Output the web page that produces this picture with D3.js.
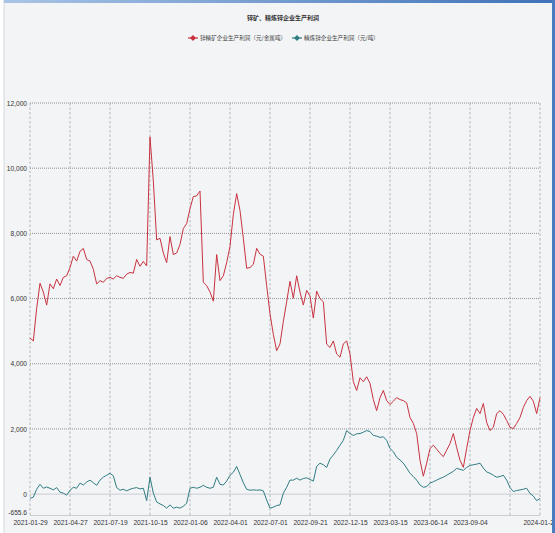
<!DOCTYPE html>
<html>
<head>
<meta charset="utf-8">
<script src="https://cdn.jsdelivr.net/npm/d3@7"></script>
<style>
  html, body { margin: 0; padding: 0; background: #ffffff; }
  svg { display: block; }
</style>
</head>
<body>
<div id="chart"></div>
<script>
// 锌矿、精炼锌企业生产利润 — sampled about every 5 trading days
var titleText = "锌矿、精炼锌企业生产利润";
var seriesNames = ["锌精矿企业生产利润（元/金属吨）", "精炼锌企业生产利润（元/吨）"];

var tickIndex = [0, 12, 24, 36, 48, 60, 72, 84, 96, 108, 120, 132, 144, 153];
var tickLabels = ["2021-01-29", "2021-04-27", "2021-07-19", "2021-10-15", "2022-01-06", "2022-04-01",
  "2022-07-01", "2022-09-21", "2022-12-15", "2023-03-15", "2023-06-14", "2023-09-04", "", "2024-01-26"];
var yTicks = [-655.6, 0, 2000, 4000, 6000, 8000, 10000, 12000];

var oreProfit = [
  4790, 4700, 5700, 6470, 6200, 5800, 6450, 6300, 6600, 6400, 6650, 6700,
  6950, 7300, 7150, 7450, 7540, 7200, 7150, 6900, 6450, 6550, 6500, 6620,
  6650, 6600, 6700, 6650, 6620, 6750, 6800, 6780, 7200, 6990, 7140, 7000,
  10960, 9600, 7800, 7850, 7400, 7100, 7900, 7350, 7400, 7660, 8150, 8300,
  8760, 9130, 9150, 9300, 6500, 6400, 6200, 5920, 7350, 6550, 6700, 7100,
  7600, 8580, 9220, 8700, 7850, 6930, 6950, 7050, 7540, 7360, 7300, 6400,
  5530, 4900, 4400, 4610, 5300, 5900, 6530, 6010, 6700, 6200, 5800, 6250,
  6080, 5400, 6230, 6000, 5900, 4600, 4500, 4700, 4300, 4200, 4610, 4700,
  4300, 3450, 3180, 3570, 3450, 3600, 3400, 2900, 2560, 2960, 3180, 2870,
  2750, 2850, 2960, 2900, 2870, 2800, 2350, 2170, 1860, 1040, 550, 950,
  1400, 1500, 1380, 1250, 1150, 1350, 1550, 1860, 1430, 1040, 820, 1400,
  1950, 2350, 2630, 2470, 2780, 2200, 1950, 2050, 2470, 2560, 2450, 2260,
  2050, 2010, 2170, 2350, 2660, 2870, 3000, 2850, 2470, 2960
];
var smeltProfit = [
  -130, -90, 150, 300, 180, 220, 180, 130, 200, 60, 30, -30,
  120, 210, 180, 340, 280, 370, 430, 350, 270, 430, 520, 580,
  640, 560, 200, 120, 150, 100, 150, 180, 200, 160, 180, -200,
  520, 30, -240, -300, -350, -430, -330, -430, -400, -430, -370, -280,
  180, 210, 180, 210, 270, 210, 180, 210, 520, 300, 280, 400,
  580, 670, 850, 600, 350, 150, 120, 130, 120, 130, 100, -180,
  -430, -400, -350, -330, 30, 210, 430, 430, 490, 430, 480, 500,
  450, 400, 850, 950, 900, 820, 1080, 1200, 1340, 1500, 1650, 1950,
  1860, 1800, 1850, 1860, 1900, 1950, 1920, 1800, 1780, 1740, 1760, 1650,
  1400, 1300, 1130, 1050, 950, 800, 640, 540, 430, 280, 210, 230,
  340, 380, 430, 480, 520, 580, 640, 700, 790, 760, 730, 820,
  880, 900, 920, 950, 800, 680, 640, 580, 520, 540, 580, 430,
  200, 80, 110, 130, 150, 180, 20, -60, -200, -130
];

(function() {
  var colors = ["#c8323f", "#2f7d82"];
  var W = 555, H = 533;
  var mLeft = 30, mRight = 540, mTop = 103, mBottom = 515.5;

  var svg = d3.select("#chart").append("svg").attr("width", W).attr("height", H);

  // frame
  svg.append("rect").attr("x", 4).attr("y", 0).attr("width", W - 4).attr("height", H).attr("fill", "#f3f4f6");
  svg.append("line").attr("x1", 4).attr("x2", 4).attr("y1", 0).attr("y2", H).attr("stroke", "#d6d9de");
  var grad = svg.append("defs").append("linearGradient").attr("id", "topbar");
  grad.append("stop").attr("offset", "0%").attr("stop-color", "#a9c4e6");
  grad.append("stop").attr("offset", "100%").attr("stop-color", "#3f72b8");
  svg.append("rect").attr("x", 4).attr("y", 0).attr("width", W - 4).attr("height", 3).attr("fill", "url(#topbar)");

  var n = oreProfit.length;
  var x = d3.scaleLinear().domain([0, n - 1]).range([mLeft, mRight]);
  var y = d3.scaleLinear().domain([-655.6, 12000]).range([mBottom, mTop]);

  // horizontal grid
  svg.append("g").selectAll("line").data(yTicks).enter().append("line")
    .attr("x1", mLeft).attr("x2", mRight)
    .attr("y1", function(d) { return y(d); }).attr("y2", function(d) { return y(d); })
    .attr("stroke", function(d) { return d > 0 ? "#777" : "#c9ccd2"; })
    .attr("stroke-width", function(d) { return d > 0 ? 0.8 : 1; })
    .attr("stroke-dasharray", function(d) { return d > 0 ? "1,1" : null; });

  // vertical grid
  svg.append("g").selectAll("line").data(tickIndex).enter().append("line")
    .attr("x1", function(d) { return x(d); }).attr("x2", function(d) { return x(d); })
    .attr("y1", mTop).attr("y2", mBottom)
    .attr("stroke", "#a3a6ab").attr("stroke-width", 0.8)
    .attr("stroke-dasharray", "2.5,2");

  // y axis labels
  var yAxis = d3.axisLeft(y).tickValues(yTicks).tickSize(0).tickPadding(3)
    .tickFormat(function(d) { return d < 0 ? "-655.6" : d3.format(",")(d); });
  var gy = svg.append("g").attr("transform", "translate(" + mLeft + ",0)").call(yAxis);
  gy.select(".domain").remove();
  gy.selectAll("text").attr("font-family", "Liberation Sans, Arial, sans-serif")
    .attr("font-size", "6.6px").attr("fill", "#333")
    .attr("dy", function(d) { return d < 0 ? "-0.1em" : "0.32em"; });

  // x axis labels
  var xAxis = d3.axisBottom(x).tickValues(tickIndex).tickSize(0).tickPadding(4.5)
    .tickFormat(function(d) { return tickLabels[tickIndex.indexOf(d)]; });
  var gx = svg.append("g").attr("transform", "translate(0," + mBottom + ")").call(xAxis);
  gx.select(".domain").remove();
  gx.selectAll("text").attr("font-family", "Liberation Sans, Arial, sans-serif")
    .attr("font-size", "6.7px").attr("fill", "#333");

  // lines
  var line = d3.line()
    .x(function(d, i) { return x(i); })
    .y(function(d) { return y(d); });

  [oreProfit, smeltProfit].forEach(function(s, k) {
    svg.append("path").datum(s)
      .attr("fill", "none")
      .attr("stroke", colors[k])
      .attr("stroke-width", 1)
      .attr("stroke-linejoin", "round")
      .attr("d", line);
  });

  // right border drawn last so it covers the clipped last label like the original
  svg.append("rect").attr("x", W - 3).attr("y", 0).attr("width", 3).attr("height", H).attr("fill", "#4a7cc0");

  // title
  svg.append("text").attr("x", 283).attr("y", 20).attr("text-anchor", "middle")
    .attr("font-family", "Noto Sans CJK SC, sans-serif").attr("font-weight", "bold")
    .attr("font-size", "6px").attr("fill", "#333").text(titleText);

  // legend
  var legendX = [193, 297];
  seriesNames.forEach(function(name, k) {
    var g = svg.append("g").attr("transform", "translate(" + legendX[k] + ",38)");
    g.append("line").attr("x1", -5).attr("x2", 5).attr("y1", 0).attr("y2", 0)
      .attr("stroke", colors[k]).attr("stroke-width", 1.2);
    g.append("path").attr("d", "M0,-3L3,0L0,3L-3,0Z").attr("fill", colors[k]);
    g.append("text").attr("x", 7).attr("y", 2.2)
      .attr("font-family", "Noto Sans CJK SC, sans-serif")
      .attr("font-size", "5.6px").attr("fill", "#444").text(name);
  });
})();
</script>
</body>
</html>
